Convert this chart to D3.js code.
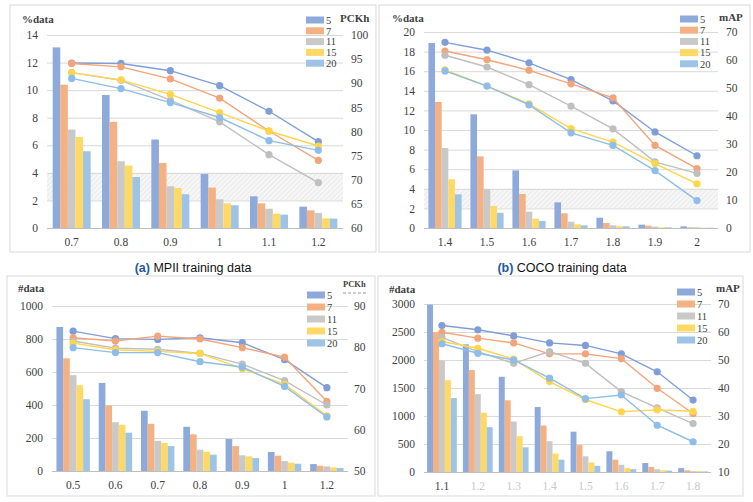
<!DOCTYPE html>
<html>
<head>
<meta charset="utf-8">
<script src="https://cdn.jsdelivr.net/npm/d3@7"></script>
<style>
  body { margin: 0; background: #fff; }
  svg { display: block; }
</style>
</head>
<body>
<svg id="chart" width="753" height="502"></svg>
<script>
// series shared by all four panels
const seriesKeys = ["5", "7", "11", "15", "20"];
const barColors = ["#8eaadb", "#f4b183", "#c9c9c9", "#ffd966", "#9dc3e6"];
const lineColors = ["#7f9ed8", "#f3a57a", "#bfbfbf", "#ffd54a", "#8dbde8"];

// (a) MPII, %data
const mpiiPctCats = ["0.7", "0.8", "0.9", "1", "1.1", "1.2"];
const mpiiPctBars = [
  [13.1, 9.65, 6.42, 3.92, 2.3, 1.55],
  [10.4, 7.7, 4.72, 2.93, 1.79, 1.28],
  [7.14, 4.84, 3.03, 2.08, 1.4, 1.09],
  [6.6, 4.53, 2.9, 1.79, 1.04, 0.7],
  [5.57, 3.7, 2.45, 1.65, 0.97, 0.68]
];
const mpiiPctPckh = [
  [94.2, 94.1, 92.6, 89.5, 84.2, 77.9],
  [94.1, 93.4, 90.9, 86.9, 80.1, 74.0],
  [92.2, 90.6, 86.5, 82.0, 75.2, 69.4],
  [92.2, 90.7, 87.7, 83.9, 80.1, 77.0],
  [91.0, 88.9, 86.0, 82.9, 78.1, 76.1]
];
const mpiiPctLeftTicks = [0, 2, 4, 6, 8, 10, 12, 14];
const mpiiPctRightTicks = [60, 65, 70, 75, 80, 85, 90, 95, 100];

// (b) COCO, %data
const cocoPctCats = ["1.4", "1.5", "1.6", "1.7", "1.8", "1.9", "2"];
const cocoPctBars = [
  [18.88, 11.6, 5.88, 2.62, 1.05, 0.34, 0.17],
  [12.86, 7.31, 3.47, 1.5, 0.51, 0.24, 0.07],
  [8.16, 3.98, 1.67, 0.65, 0.27, 0.14, 0.07],
  [4.97, 2.24, 0.95, 0.37, 0.17, 0.07, 0.03],
  [3.44, 1.56, 0.71, 0.27, 0.17, 0.07, 0.03]
];
const cocoPctMap = [
  [66.3, 63.5, 59.0, 53.0, 45.4, 34.3, 25.8],
  [63.2, 60.1, 56.3, 51.5, 46.5, 29.5, 21.2],
  [61.7, 57.5, 51.2, 43.5, 35.4, 23.6, 19.5],
  [56.5, 50.7, 44.3, 35.5, 30.7, 23.0, 15.8],
  [56.1, 50.7, 44.0, 34.0, 29.5, 20.5, 9.8]
];
const cocoPctLeftTicks = [0, 2, 4, 6, 8, 10, 12, 14, 16, 18, 20];
const cocoPctRightTicks = [0, 10, 20, 30, 40, 50, 60, 70];

// (a) MPII, #data
const mpiiNumCats = ["0.5", "0.6", "0.7", "0.8", "0.9", "1", "1.2"];
const mpiiNumBars = [
  [873, 534, 365, 268, 194, 115, 42],
  [683, 397, 286, 222, 151, 93, 32],
  [581, 296, 183, 129, 95, 60, 28],
  [520, 280, 171, 117, 89, 50, 22],
  [435, 232, 151, 99, 79, 44, 18]
];
const mpiiNumPckh = [
  [83.9, 82.1, 81.9, 82.3, 81.1, 77.0, 70.2],
  [82.3, 81.5, 82.7, 82.0, 79.9, 77.6, 66.9],
  [81.5, 79.8, 79.5, 78.5, 75.9, 71.9, 66.0],
  [81.0, 79.4, 79.0, 78.5, 74.8, 71.0, 63.4],
  [79.9, 78.7, 78.7, 76.5, 75.2, 70.5, 63.1]
];
const mpiiNumLeftTicks = [0, 200, 400, 600, 800, 1000];
const mpiiNumRightTicks = [50, 60, 70, 80, 90];

// (b) COCO, #data
const cocoNumCats = ["1.1", "1.2", "1.3", "1.4", "1.5", "1.6", "1.7", "1.8"];
const cocoNumBars = [
  [2990, 2280, 1700, 1160, 720, 370, 160, 70],
  [2500, 1820, 1280, 830, 480, 220, 90, 30],
  [1990, 1390, 900, 550, 280, 130, 50, 15],
  [1640, 1060, 640, 330, 170, 70, 30, 15],
  [1320, 800, 440, 220, 110, 50, 25, 10]
];
const cocoNumMap = [
  [62.3, 60.8, 58.6, 56.1, 55.2, 52.2, 45.8, 35.7],
  [59.9, 57.8, 56.1, 52.2, 52.2, 50.5, 39.9, 30.9],
  [58.1, 53.0, 48.8, 53.0, 48.8, 38.7, 32.9, 27.3],
  [56.6, 54.2, 50.3, 42.3, 35.9, 31.5, 32.2, 31.7],
  [55.8, 52.4, 50.0, 43.5, 36.2, 37.5, 26.7, 20.8]
];
const cocoNumLeftTicks = [0, 500, 1000, 1500, 2000, 2500, 3000];
const cocoNumRightTicks = [10, 20, 30, 40, 50, 60, 70];

const svg = d3.select("#chart");
const serif = "'Liberation Serif', 'DejaVu Serif', serif";

// diagonal hatch for the 2-4 % band
const defs = svg.append("defs");
const pat = defs.append("pattern")
  .attr("id", "hatch")
  .attr("width", 3.5).attr("height", 3.5)
  .attr("patternUnits", "userSpaceOnUse")
  .attr("patternTransform", "rotate(45)");
pat.append("rect").attr("width", 3.5).attr("height", 3.5).attr("fill", "#f6f6f6");
pat.append("line").attr("x1", 0).attr("y1", 0).attr("x2", 0).attr("y2", 3.5)
  .attr("stroke", "#dedede").attr("stroke-width", 1);

function drawPanel(p) {
  const g = svg.append("g");

  g.append("rect")
    .attr("x", p.box[0]).attr("y", p.box[1])
    .attr("width", p.box[2] - p.box[0]).attr("height", p.box[3] - p.box[1])
    .attr("fill", "none").attr("stroke", "#d9d9d9");

  const x = d3.scaleBand().domain(p.cats).range(p.xr)
    .paddingInner(p.pad).paddingOuter(p.pad / 2);
  const xs = d3.scaleBand().domain(seriesKeys).range([0, x.bandwidth()]);
  const yL = d3.scaleLinear().domain(d3.extent(p.leftTicks)).range(p.yr);
  const yR = d3.scaleLinear().domain(d3.extent(p.rightTicks)).range(p.yr);

  if (p.hatch) {
    g.append("rect")
      .attr("x", p.xr[0]).attr("width", p.xr[1] - p.xr[0])
      .attr("y", yL(p.hatch[1])).attr("height", yL(p.hatch[0]) - yL(p.hatch[1]))
      .attr("fill", "url(#hatch)");
  }

  // left axis with gridlines
  const left = g.append("g")
    .attr("transform", `translate(${p.xr[0]},0)`)
    .call(d3.axisLeft(yL).tickValues(p.leftTicks).tickFormat(d3.format("d"))
      .tickSize(-(p.xr[1] - p.xr[0])).tickPadding(9));
  left.select(".domain").remove();
  left.selectAll(".tick line").attr("stroke", (d) => d === 0 ? "#bfbfbf" : "#d9d9d9");
  left.selectAll("text").attr("font-family", serif).attr("font-size", 11.5).attr("fill", "#404040");

  // right axis, labels only
  const right = g.append("g")
    .attr("transform", `translate(${p.xr[1]},0)`)
    .call(d3.axisRight(yR).tickValues(p.rightTicks).tickFormat(d3.format("d"))
      .tickSize(0).tickPadding(p.rpad));
  right.select(".domain").remove();
  right.selectAll("text").attr("font-family", serif).attr("font-size", 11.5).attr("fill", "#404040");

  // bottom labels
  const bottom = g.append("g")
    .attr("transform", `translate(0,${p.yr[0]})`)
    .call(d3.axisBottom(x).tickSize(0).tickPadding(10));
  bottom.select(".domain").remove();
  bottom.selectAll("text").attr("font-family", serif).attr("font-size", 11.5)
    .attr("fill", (d, i) => p.fadeLabels && i > 0 ? "#c8c8c8" : "#404040");

  // bars
  seriesKeys.forEach((k, si) => {
    g.append("g").selectAll("rect")
      .data(p.bars[si])
      .enter()
      .append("rect")
      .attr("x", (d, i) => x(p.cats[i]) + xs(k))
      .attr("width", xs.bandwidth())
      .attr("y", (d) => yL(d))
      .attr("height", (d) => yL(0) - yL(d))
      .attr("fill", barColors[si]);
  });

  // lines
  const cx = (i) => x(p.cats[i]) + x.bandwidth() / 2;
  seriesKeys.forEach((k, si) => {
    const line = d3.line().x((d, i) => cx(i)).y((d) => yR(d));
    g.append("path")
      .datum(p.lines[si])
      .attr("d", line)
      .attr("fill", "none")
      .attr("stroke", lineColors[si])
      .attr("stroke-width", 1.4);
    g.append("g").selectAll("circle")
      .data(p.lines[si])
      .enter()
      .append("circle")
      .attr("cx", (d, i) => cx(i))
      .attr("cy", (d) => yR(d))
      .attr("r", 3.6)
      .attr("fill", lineColors[si]);
  });

  // axis titles
  g.append("text")
    .attr("x", p.ltitle[0]).attr("y", p.ltitle[1])
    .attr("font-family", serif).attr("font-weight", "bold").attr("font-size", 11)
    .attr("fill", "#404040").text(p.leftTitle);
  g.append("text")
    .attr("x", p.rtitle[0]).attr("y", p.rtitle[1])
    .attr("font-family", serif).attr("font-weight", "bold").attr("font-size", p.rtitleSize || 11)
    .attr("fill", "#404040").text(p.rightTitle);
  if (p.rtitleDash) {
    g.append("line")
      .attr("x1", p.rtitle[0]).attr("x2", p.rtitle[0] + 24)
      .attr("y1", p.rtitle[1] + 6).attr("y2", p.rtitle[1] + 6)
      .attr("stroke", "#999").attr("stroke-dasharray", "3,2");
  }

  // legend
  const lg = g.append("g").attr("transform", `translate(${p.legend[0]},${p.legend[1]})`);
  seriesKeys.forEach((k, si) => {
    lg.append("rect")
      .attr("x", 0).attr("y", si * p.legendStep - 3.5)
      .attr("width", 18).attr("height", 7)
      .attr("fill", barColors[si]);
    lg.append("text")
      .attr("x", 20).attr("y", si * p.legendStep + 3.8)
      .attr("font-family", serif).attr("font-size", 10.5)
      .attr("fill", "#404040").text(k);
  });
}

drawPanel({
  box: [10, 5, 376, 252], xr: [47, 343], yr: [228, 35], pad: 0.23, rpad: 8,
  cats: mpiiPctCats, bars: mpiiPctBars, lines: mpiiPctPckh,
  leftTicks: mpiiPctLeftTicks, rightTicks: mpiiPctRightTicks, hatch: [2, 4],
  leftTitle: "%data", ltitle: [22, 23], rightTitle: "PCKh", rtitle: [340, 22],
  legend: [306, 20], legendStep: 10.8
});

drawPanel({
  box: [379, 5, 750, 252], xr: [424, 718], yr: [228, 32], pad: 0.21, rpad: 8,
  cats: cocoPctCats, bars: cocoPctBars, lines: cocoPctMap,
  leftTicks: cocoPctLeftTicks, rightTicks: cocoPctRightTicks, hatch: [2, 4],
  leftTitle: "%data", ltitle: [392, 22], rightTitle: "mAP", rtitle: [719, 21],
  legend: [680, 19], legendStep: 11.2
});

drawPanel({
  box: [7, 276, 375, 496], xr: [52, 348], yr: [471, 306], pad: 0.21, rpad: 6,
  cats: mpiiNumCats, bars: mpiiNumBars, lines: mpiiNumPckh,
  leftTicks: mpiiNumLeftTicks, rightTicks: mpiiNumRightTicks,
  leftTitle: "#data", ltitle: [18, 292], rightTitle: "PCKh", rtitle: [343, 287],
  rtitleSize: 8.5, rtitleDash: true,
  legend: [307, 295], legendStep: 12
});

drawPanel({
  box: [378, 276, 743, 496], xr: [424, 711], yr: [472, 304], pad: 0.17, rpad: 7, fadeLabels: true,
  cats: cocoNumCats, bars: cocoNumBars, lines: cocoNumMap,
  leftTicks: cocoNumLeftTicks, rightTicks: cocoNumRightTicks,
  leftTitle: "#data", ltitle: [389, 293], rightTitle: "mAP", rtitle: [716, 292],
  legend: [677, 292], legendStep: 12
});

// captions
const captions = [
  { x: 193, bold: "(a)", rest: " MPII training data" },
  { x: 562, bold: "(b)", rest: " COCO training data" }
];
captions.forEach((c) => {
  const t = svg.append("text")
    .attr("x", c.x).attr("y", 272)
    .attr("text-anchor", "middle")
    .attr("font-family", "'Liberation Sans', Arial, sans-serif")
    .attr("font-size", 12.5);
  t.append("tspan").attr("font-weight", "bold").attr("fill", "#1f5aa0").text(c.bold);
  t.append("tspan").attr("fill", "#111").text(c.rest);
});
</script>
</body>
</html>
